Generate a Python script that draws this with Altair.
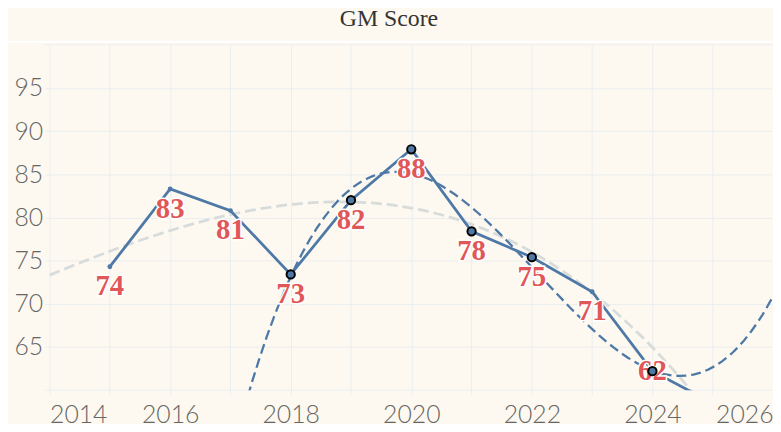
import altair as alt
import pandas as pd

title_text = "GM Score"
years = [2015, 2016, 2017, 2018, 2019, 2020, 2021, 2022, 2023, 2024, 2025]
scores = [74.3, 83.3, 80.8, 73.4, 82.0, 87.9, 78.4, 75.4, 71.4, 62.2, 58.5]
highlight = [False, False, False, True, True, True, True, True, False, True, False]

x_label_years = [2014, 2016, 2018, 2020, 2022, 2024, 2026]
x_extra_grid = [2015, 2017, 2019, 2021, 2023, 2025]
y_label_values = [65, 70, 75, 80, 85, 90, 95]
y_extra_grid = [60, 100]

df = pd.DataFrame({"year": years, "score": scores, "hl": highlight})

BLUE = "#4e79a7"
RED = "#e15759"
GRID = "#ebeef0"
BG = "#fdf9f0"

x_enc = alt.X(
    "year:Q",
    scale=alt.Scale(domain=[2014, 2026], nice=False, zero=False),
    axis=alt.Axis(values=x_label_years, format="d", title=None, labelFlush=True),
)
y_enc = alt.Y(
    "score:Q",
    scale=alt.Scale(domain=[60, 100], nice=False, zero=False),
    axis=alt.Axis(values=y_label_values, title=None),
)

base = alt.Chart(df)

xgrid = alt.Chart(pd.DataFrame({"year": x_extra_grid})).mark_rule(
    color=GRID, strokeWidth=1
).encode(x=x_enc, y=alt.value(0), y2=alt.value(354))

ygrid = alt.Chart(pd.DataFrame({"score": y_extra_grid})).mark_rule(
    color=GRID, strokeWidth=1
).encode(y=y_enc, x=alt.value(-5), x2=alt.value(731))

band = alt.Chart(pd.DataFrame({"t": [title_text]})).mark_rule(
    color="white", strokeWidth=2
).encode(x=alt.value(-50), x2=alt.value(760), y=alt.value(-3))

title = alt.Chart(pd.DataFrame({"t": [title_text]})).mark_text(
    font="Liberation Serif", fontSize=24, color="#333333",
    align="center", baseline="alphabetic",
).encode(text="t:N", x=alt.value(343), y=alt.value(-19))

gray_fit = (
    base.transform_regression("year", "score", method="poly", order=3, extent=[2014, 2026])
    .mark_line(color="#d7dcdb", strokeWidth=2.8, strokeDash=[11, 5], clip=True)
    .encode(x=x_enc, y=y_enc)
)

blue_fit = (
    base.transform_filter("datum.hl")
    .transform_regression("year", "score", method="poly", order=3, extent=[2014, 2026])
    .mark_line(color=BLUE, strokeWidth=2.3, strokeDash=[10, 5], clip=True)
    .encode(x=x_enc, y=y_enc)
)

line = base.mark_line(color=BLUE, strokeWidth=2.8, clip=True).encode(x=x_enc, y=y_enc)


def text_layer(flt, dy, halo):
    kw = dict(font="Liberation Serif", fontSize=29, fontWeight="bold",
              baseline="middle", dy=dy, clip=True)
    if halo:
        kw.update(color="white", stroke="white", strokeWidth=3)
    else:
        kw.update(color=RED)
    return (
        base.transform_filter("datum.score >= 60")
        .transform_filter(flt)
        .mark_text(**kw)
        .encode(x=x_enc, y=y_enc, text=alt.Text("score:Q", format=".0f"))
    )


halo_a = text_layer("datum.score >= 64", 20, True)
halo_b = text_layer("datum.score < 64", 0, True)
lab_a = text_layer("datum.score >= 64", 20, False)
lab_b = text_layer("datum.score < 64", 0, False)

dots = base.transform_filter("!datum.hl").mark_circle(
    color=BLUE, size=24, opacity=1, clip=True
).encode(x=x_enc, y=y_enc)

pts = base.transform_filter("datum.hl").mark_point(
    filled=True, fill=BLUE, stroke="black", strokeWidth=2, size=70, opacity=1, clip=True
).encode(x=x_enc, y=y_enc)

chart = (
    alt.layer(xgrid, ygrid, band, title, gray_fit, blue_fit, line,
              halo_a, halo_b, lab_a, lab_b, dots, pts)
    .properties(
        width=731,
        height=349,
        autosize="none",
        padding={"left": 42, "top": 35, "right": 0, "bottom": 32},
        background=BG,
    )
    .configure_view(stroke=None, fill=BG)
    .configure_axis(
        grid=True, gridColor=GRID, gridWidth=1, domain=False,
        ticks=True, tickColor=GRID, tickSize=5,
        labelFont="Lato", labelFontSize=25, labelFontWeight=300, labelColor="#666666",
    )
    .configure_axisX(labelPadding=8)
    .configure_axisY(labelPadding=2)
)

chart.save("out.html", embed_options={"renderer": "svg", "actions": False})
